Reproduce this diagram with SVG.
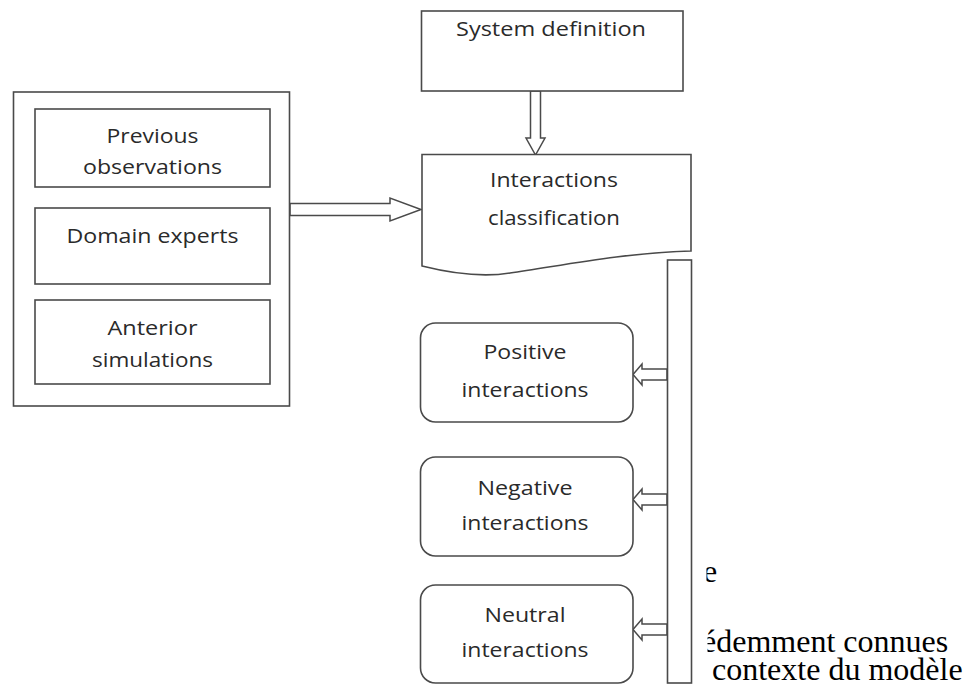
<svg xmlns="http://www.w3.org/2000/svg" width="971" height="695" viewBox="0 0 971 695">
  <defs>
    <style>
      .box { fill: #ffffff; stroke: #4a4a4a; stroke-width: 1.6; }
      .arrow { fill: #ffffff; stroke: #4a4a4a; stroke-width: 1.5; stroke-linejoin: miter; }
      .lbl { font-family: "Open Sans", "DejaVu Sans", sans-serif; font-size: 20.5px; fill: #2a2a2a; text-anchor: middle; }
      .body { font-family: "Liberation Serif", "Times New Roman", serif; font-size: 32px; fill: #000000; }
    </style>
    <clipPath id="clipLine1">
      <rect x="706.5" y="550" width="264" height="45"/>
    </clipPath>
    <clipPath id="clipLine2">
      <rect x="707.5" y="620" width="263" height="42"/>
    </clipPath>
  </defs>

  <rect width="971" height="695" fill="#ffffff"/>

  <!-- running text at the right edge, partly hidden behind the figure -->
  <text class="body" x="703" y="582" clip-path="url(#clipLine1)">e</text>
  <text class="body" x="702" y="652" clip-path="url(#clipLine2)">édemment connues</text>
  <text class="body" x="712" y="680">contexte du modèle</text>

  <!-- connectors -->
  <g id="connectors">
    <!-- sources to classification -->
    <path class="arrow" d="M290,203.5 H390 V198 L421,209.5 L390,221 V215.5 H290 Z"/>
    <!-- system definition to classification -->
    <path class="arrow" d="M530.5,91 V138 H526 L535.5,155 L545,138 H540.5 V91 Z"/>
    <!-- bar to each interaction type -->
    <path class="arrow" d="M667,369 H642 V364 L633,374.5 L642,385 V380 H667 Z"/>
    <path class="arrow" d="M667,494 H642 V489 L633,499.5 L642,510 V505 H667 Z"/>
    <path class="arrow" d="M667,624 H642 V619 L633,629.5 L642,640 V635 H667 Z"/>
  </g>

  <!-- knowledge sources container -->
  <g id="sources">
    <rect class="box" x="13.5" y="92" width="276" height="314"/>
    <g id="previous-observations">
      <rect class="box" x="35" y="109" width="235" height="78"/>
      <text class="lbl" x="152.5" y="143" textLength="92" lengthAdjust="spacingAndGlyphs">Previous</text>
      <text class="lbl" x="152.5" y="174" textLength="139" lengthAdjust="spacingAndGlyphs">observations</text>
    </g>
    <g id="domain-experts">
      <rect class="box" x="35" y="208" width="235" height="76"/>
      <text class="lbl" x="152.5" y="243" textLength="172" lengthAdjust="spacingAndGlyphs">Domain experts</text>
    </g>
    <g id="anterior-simulations">
      <rect class="box" x="35" y="300" width="235" height="84"/>
      <text class="lbl" x="152.5" y="335" textLength="90" lengthAdjust="spacingAndGlyphs">Anterior</text>
      <text class="lbl" x="152.5" y="367" textLength="121" lengthAdjust="spacingAndGlyphs">simulations</text>
    </g>
  </g>

  <g id="system-definition">
    <rect class="box" x="421.5" y="11" width="261.5" height="80"/>
    <text class="lbl" x="551" y="36" textLength="190" lengthAdjust="spacingAndGlyphs">System definition</text>
  </g>

  <g id="interactions-classification">
    <path class="box" d="M422,154.5 H691 V251 C620,253 560,266 510,273 C480,278 450,273 422,266 Z"/>
    <text class="lbl" x="554" y="187" textLength="128" lengthAdjust="spacingAndGlyphs">Interactions</text>
    <text class="lbl" x="554" y="225" textLength="132" lengthAdjust="spacingAndGlyphs">classification</text>
  </g>

  <g id="distribution-bar">
    <rect class="box" x="667.5" y="260" width="24" height="423"/>
  </g>

  <g id="positive-interactions">
    <rect class="box" x="420.5" y="323" width="212.5" height="99" rx="15" ry="15"/>
    <text class="lbl" x="525" y="359" textLength="83" lengthAdjust="spacingAndGlyphs">Positive</text>
    <text class="lbl" x="525" y="397" textLength="127" lengthAdjust="spacingAndGlyphs">interactions</text>
  </g>

  <g id="negative-interactions">
    <rect class="box" x="420.5" y="457" width="212.5" height="99" rx="15" ry="15"/>
    <text class="lbl" x="525" y="495" textLength="95" lengthAdjust="spacingAndGlyphs">Negative</text>
    <text class="lbl" x="525" y="530" textLength="127" lengthAdjust="spacingAndGlyphs">interactions</text>
  </g>

  <g id="neutral-interactions">
    <rect class="box" x="420.5" y="585" width="212.5" height="98" rx="15" ry="15"/>
    <text class="lbl" x="525" y="622" textLength="81" lengthAdjust="spacingAndGlyphs">Neutral</text>
    <text class="lbl" x="525" y="657" textLength="127" lengthAdjust="spacingAndGlyphs">interactions</text>
  </g>
</svg>
